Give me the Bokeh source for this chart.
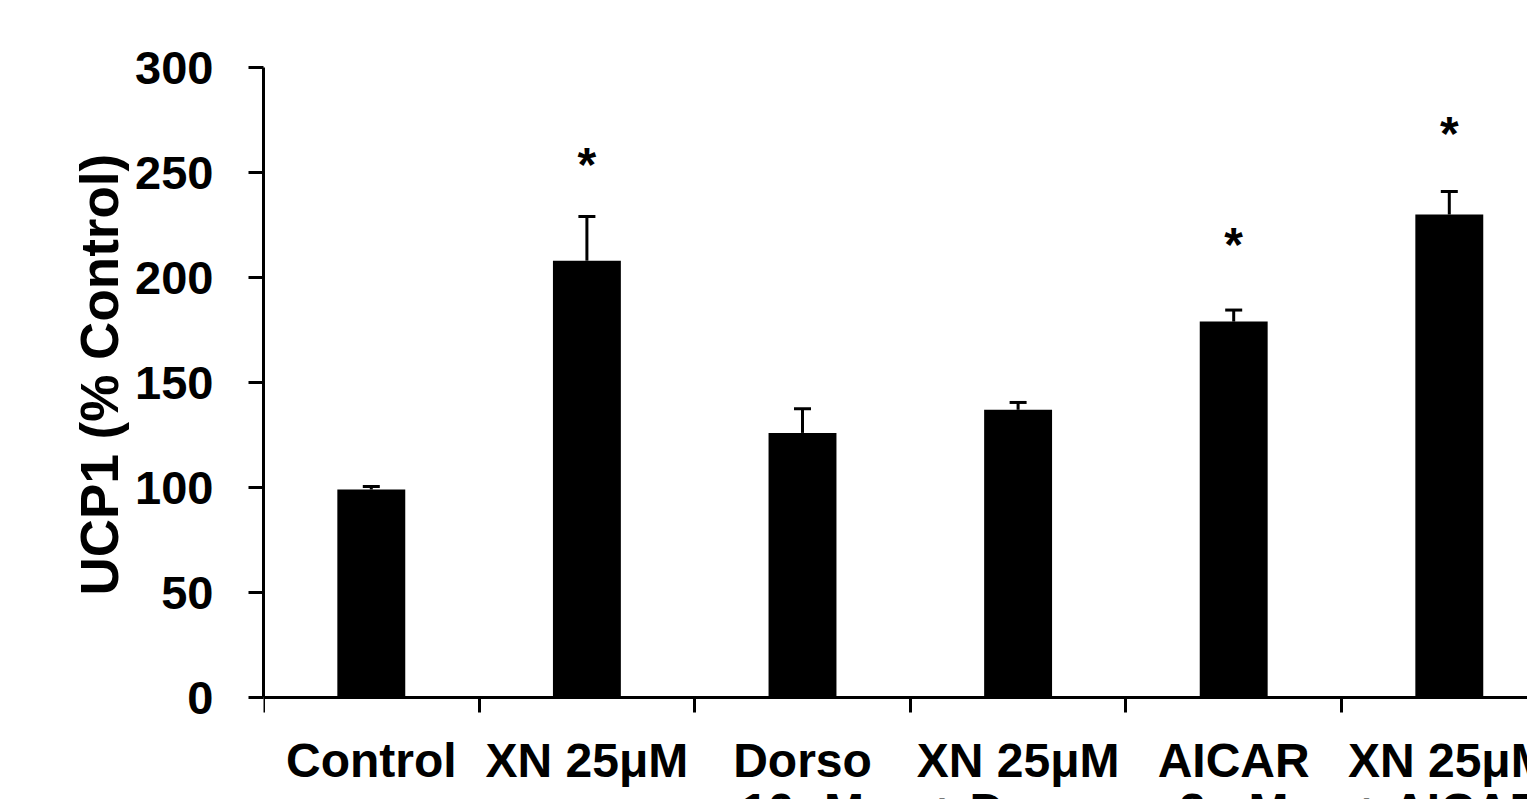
from bokeh.plotting import figure
from bokeh.models import Range1d, FixedTicker, Whisker, TeeHead, ColumnDataSource, LinearAxis, Title
from bokeh.core.properties import value
from bokeh.embed import file_html
from bokeh.resources import INLINE

# ---- data ----
labels_line1 = ["Control", "XN 25μM", "Dorso", "XN 25μM", "AICAR", "XN 25μM"]
labels_line2 = ["", "", "10μM", "+ Dorso", "2mM", "+ AICAR"]
ucp1_pct = [99, 208, 126, 137, 179, 230]
ucp1_sem = [1.5, 21, 11.5, 3.5, 5.5, 11]
significant = [False, True, False, False, True, True]
star_level = [None, 256, None, None, 218, 271]
y_ticks = [0, 50, 100, 150, 200, 250, 300]
y_max = 300
y_title = "UCP1 (% Control)"

FONT = "Liberation Sans"
n = len(labels_line1)
xs = [i + 0.5 for i in range(n)]

PX_PER_UNIT = 2.1          # 630 px for 0..300
PX_PER_CAT = 215.6
below_zero = 102 / PX_PER_UNIT   # room under the axis for its labels

p = figure(width=1527, height=799, output_backend="svg", toolbar_location=None,
           x_range=Range1d(0, 1264 / PX_PER_CAT),
           y_range=Range1d(-below_zero, y_max),
           x_axis_location=None,
           min_border_left=263, min_border_right=0, min_border_top=67,
           min_border_bottom=0)
p.outline_line_color = None
p.grid.visible = False
p.background_fill_color = "white"
p.border_fill_color = "white"

bars = ColumnDataSource(dict(x=xs, top=ucp1_pct,
                             upper=[v + e for v, e in zip(ucp1_pct, ucp1_sem)]))
p.vbar(x="x", top="top", bottom=0, width=0.315, source=bars,
       fill_color="black", line_color=None)

p.add_layout(Whisker(source=bars, base="x", lower="top", upper="upper",
                     dimension="height", line_color="black", line_width=3,
                     lower_head=None,
                     upper_head=TeeHead(size=17, line_width=3, line_color="black")))

stars = ColumnDataSource(dict(
    x=[x for x, s in zip(xs, significant) if s],
    y=[y for y, s in zip(star_level, significant) if s],
    t=["*" for s in significant if s]))
p.text(x="x", y="y", text="t", source=stars, text_font=value(FONT),
       text_font_style="bold", text_font_size="48px", text_align="center",
       text_baseline="alphabetic", y_offset=5, text_color="black")

# x axis fixed at y=0 with ticks at the category boundaries
xa = LinearAxis(fixed_location=0)
xa.ticker = FixedTicker(ticks=[], minor_ticks=list(range(n + 1)))
xa.major_tick_out = 0
xa.major_tick_in = 0
xa.minor_tick_out = 15
xa.minor_tick_in = 0
xa.minor_tick_line_width = 3
xa.minor_tick_line_color = "black"
xa.axis_line_width = 3
xa.axis_line_color = "black"
p.add_layout(xa, "below")

# category labels under each bar (two lines, cut by the page edge like the reference)
cat = ColumnDataSource(dict(
    x=xs, y=[0] * n,
    t=[a + "\n" + b if b else a for a, b in zip(labels_line1, labels_line2)]))
p.text(x="x", y="y", text="t", source=cat, text_font=value(FONT),
       text_font_style="bold", text_font_size="48px", text_align="center",
       text_baseline="top", y_offset=36, text_line_height=0.95,
       text_color="black")

ya = p.yaxis[0]
ya.bounds = (0, y_max)
ya.ticker = FixedTicker(ticks=y_ticks, minor_ticks=[])
ya.major_tick_out = 15
ya.major_tick_in = 0
ya.major_tick_line_width = 3
ya.major_tick_line_color = "black"
ya.axis_line_width = 3
ya.axis_line_color = "black"
ya.major_label_standoff = 35
ya.major_label_text_font = FONT
ya.major_label_text_font_style = "bold"
ya.major_label_text_font_size = "47px"
ya.major_label_text_color = "black"

# y-axis title, centred on the 0..300 part of the axis
p.add_layout(Title(text=y_title, align="left", offset=204, standoff=8,
                   text_font=FONT, text_font_style="bold",
                   text_font_size="53px", text_color="black"), "left")

open("out.html", "w").write(file_html(p, INLINE))
